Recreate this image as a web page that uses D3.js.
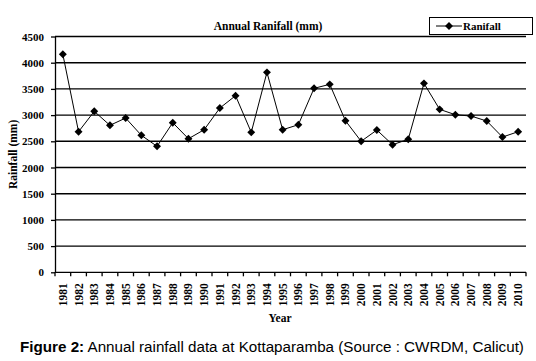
<!DOCTYPE html>
<html>
<head>
<meta charset="utf-8">
<script src="https://cdn.jsdelivr.net/npm/d3@7"></script>
<style>
  body { margin: 0; background: #fff; }
  svg { display: block; }
</style>
</head>
<body>
<svg id="chart" width="536" height="361"></svg>
<script>
const years = ['1981','1982','1983','1984','1985','1986','1987','1988','1989','1990',
  '1991','1992','1993','1994','1995','1996','1997','1998','1999','2000',
  '2001','2002','2003','2004','2005','2006','2007','2008','2009','2010'];
const rainfall = [4160, 2683, 3072, 2805, 2944, 2614, 2404, 2855, 2549, 2721,
  3135, 3370, 2671, 3816, 2721, 2816, 3511, 3587, 2893, 2500,
  2715, 2435, 2538, 3606, 3110, 3007, 2982, 2887, 2581, 2683];
const yTicks = [0, 500, 1000, 1500, 2000, 2500, 3000, 3500, 4000, 4500];

const serif = "'Liberation Serif', 'Times New Roman', serif";
const svg = d3.select('#chart');

const x = d3.scaleBand().domain(years).range([55, 526]);
const y = d3.scaleLinear().domain([0, 4500]).range([272.3, 36.5]);

// gridlines
svg.append('g')
  .selectAll('line')
  .data(yTicks.filter(d => d > 0))
  .enter().append('line')
  .attr('x1', 55).attr('x2', 526)
  .attr('y1', d => y(d)).attr('y2', d => y(d))
  .attr('stroke', '#000').attr('stroke-width', 1.4);

// y axis
var yAxis = svg.append('g')
  .attr('transform', 'translate(55,0)')
  .call(d3.axisLeft(y).tickValues(yTicks).tickFormat(d3.format('d'))
    .tickSize(4).tickPadding(7).tickSizeOuter(0));
yAxis.select('.domain').attr('stroke-width', 1.3);
yAxis.selectAll('line').attr('stroke-width', 1.3);
yAxis.selectAll('text')
  .style('font-family', serif).style('font-size', '11px').style('font-weight', 'bold');

// x axis: ticks at category boundaries
var xAxis = svg.append('g').attr('transform', 'translate(0,' + y(0) + ')');
xAxis.append('line')
  .attr('x1', 55).attr('x2', 526)
  .attr('stroke', '#000').attr('stroke-width', 1.3);
xAxis.selectAll('.tk')
  .data(years.concat(['end']))
  .enter().append('line')
  .attr('class', 'tk')
  .attr('x1', (d, i) => 55 + i * x.step())
  .attr('x2', (d, i) => 55 + i * x.step())
  .attr('y1', 0).attr('y2', 4)
  .attr('stroke', '#000').attr('stroke-width', 1.3);
xAxis.selectAll('text')
  .data(years)
  .enter().append('text')
  .attr('transform', d => 'translate(' + (x(d) + x.bandwidth() / 2 + 4) + ',11) rotate(-90)')
  .attr('text-anchor', 'end')
  .style('font-family', serif).style('font-size', '11.5px').style('font-weight', 'bold')
  .text(d => d);

// line + markers
const line = d3.line()
  .x((d, i) => x(years[i]) + x.bandwidth() / 2)
  .y(d => y(d));
svg.append('path')
  .datum(rainfall)
  .attr('d', line)
  .attr('fill', 'none')
  .attr('stroke', '#000')
  .attr('stroke-width', 1);

const diamond = d3.symbol().type(d3.symbolDiamond2).size(40);
svg.append('g')
  .selectAll('path')
  .data(rainfall)
  .enter().append('path')
  .attr('d', diamond)
  .attr('transform', (d, i) => 'translate(' + (x(years[i]) + x.bandwidth() / 2) + ',' + y(d) + ')')
  .attr('fill', '#000');

// title
svg.append('text')
  .attr('x', 268).attr('y', 30)
  .attr('text-anchor', 'middle')
  .style('font-family', serif).style('font-size', '11.5px').style('font-weight', 'bold')
  .text('Annual Ranifall (mm)');

// y label
svg.append('text')
  .attr('transform', 'translate(17,' + ((y(0) + y(4500)) / 2) + ') rotate(-90)')
  .attr('text-anchor', 'middle')
  .style('font-family', serif).style('font-size', '11.5px').style('font-weight', 'bold')
  .text('Rainfall (mm)');

// x label
svg.append('text')
  .attr('x', 280).attr('y', 322)
  .attr('text-anchor', 'middle')
  .style('font-family', serif).style('font-size', '11.5px').style('font-weight', 'bold')
  .text('Year');

// legend
var lg = svg.append('g');
lg.append('rect')
  .attr('x', 429.5).attr('y', 17.5).attr('width', 103).attr('height', 17)
  .attr('fill', '#fff').attr('stroke', '#000').attr('stroke-width', 1);
lg.append('line')
  .attr('x1', 436).attr('x2', 462).attr('y1', 26).attr('y2', 26)
  .attr('stroke', '#000').attr('stroke-width', 1);
lg.append('path')
  .attr('d', diamond)
  .attr('transform', 'translate(449,26)')
  .attr('fill', '#000');
lg.append('text')
  .attr('x', 463).attr('y', 30)
  .style('font-family', serif).style('font-size', '11px').style('font-weight', 'bold')
  .text('Ranifall');

// caption
var cap = svg.append('text')
  .attr('x', 20).attr('y', 352)
  .style('font-family', "'Liberation Sans', Arial, sans-serif").style('font-size', '15.2px');
cap.append('tspan').style('font-weight', 'bold').text('Figure 2:');
cap.append('tspan').text(' Annual rainfall data at Kottaparamba (Source : CWRDM, Calicut)');
</script>
</body>
</html>
